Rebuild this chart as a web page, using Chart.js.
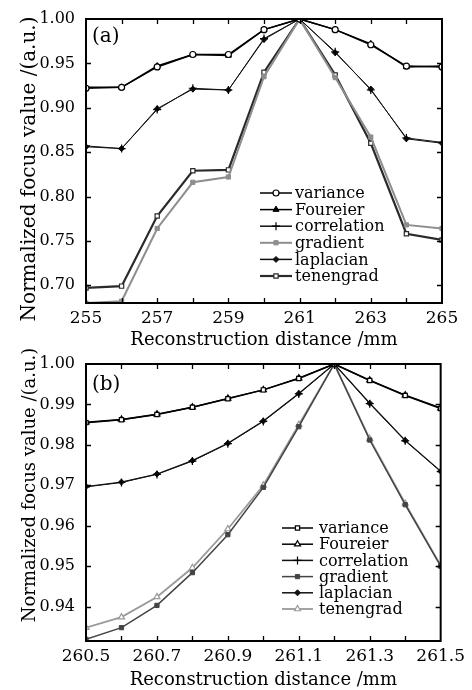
<!DOCTYPE html>
<html>
<head>
<meta charset="utf-8">
<script src="https://cdn.jsdelivr.net/npm/chart.js@4.4.1/dist/chart.umd.min.js"></script>
<style>
  html, body { margin: 0; padding: 0; background: #fff; }
  #wrap { position: relative; width: 472px; height: 690px; }
  #chartA { position: absolute; left: 0; top: 0; }
  #chartB { position: absolute; left: 0; top: 345px; }
</style>
</head>
<body>
<div id="wrap">
  <canvas id="chartA" width="472" height="350"></canvas>
  <canvas id="chartB" width="472" height="345"></canvas>
</div>
<script>
/* ---------- data ---------- */
const seriesNames = ['variance', 'Foureier', 'correlation', 'gradient', 'laplacian', 'tenengrad'];

// panel (a): 255 - 265 mm
const distA = [255, 256, 257, 258, 259, 260, 261, 262, 263, 264, 265];
const varianceA    = [0.922, 0.923, 0.946, 0.960, 0.960, 0.988, 1.000, 0.988, 0.971, 0.947, 0.946];
const fourierA     = [0.923, 0.923, 0.947, 0.960, 0.959, 0.988, 1.000, 0.988, 0.972, 0.946, 0.947];
const correlationA = [0.857, 0.854, 0.898, 0.922, 0.920, 0.978, 1.000, 0.963, 0.920, 0.866, 0.861];
const gradientA    = [0.680, 0.682, 0.764, 0.816, 0.822, 0.935, 1.000, 0.934, 0.867, 0.768, 0.764];
const laplacianA   = [0.856, 0.854, 0.899, 0.921, 0.920, 0.977, 1.000, 0.962, 0.921, 0.865, 0.860];
const tenengradA   = [0.697, 0.699, 0.778, 0.829, 0.830, 0.940, 1.000, 0.937, 0.860, 0.758, 0.751];

// panel (b): 260.5 - 261.5 mm
const distB = [260.5, 260.6, 260.7, 260.8, 260.9, 261.0, 261.1, 261.2, 261.3, 261.4, 261.5];
const varianceB    = [0.9855, 0.9862, 0.9875, 0.9893, 0.9914, 0.9936, 0.9964, 1.0000, 0.9959, 0.9922, 0.9890];
const fourierB     = [0.9856, 0.9863, 0.9876, 0.9893, 0.9915, 0.9936, 0.9965, 1.0000, 0.9960, 0.9923, 0.9891];
const correlationB = [0.9696, 0.9707, 0.9727, 0.9760, 0.9803, 0.9858, 0.9926, 1.0000, 0.9902, 0.9810, 0.9734];
const gradientB    = [0.9319, 0.9348, 0.9403, 0.9484, 0.9578, 0.9695, 0.9845, 1.0000, 0.9812, 0.9652, 0.9500];
const laplacianB   = [0.9697, 0.9708, 0.9728, 0.9761, 0.9804, 0.9859, 0.9927, 1.0000, 0.9903, 0.9811, 0.9735];
const tenengradB   = [0.9348, 0.9374, 0.9424, 0.9496, 0.9592, 0.9700, 0.9850, 1.0000, 0.9815, 0.9655, 0.9502];

const yTitle = 'Normalized focus value /(a.u.)';
const xTitle = 'Reconstruction distance /mm';

const SERIF = "'DejaVu Serif', 'Liberation Serif', serif";

function pts(xs, ys) {
  return xs.map((x, i) => ({ x: x, y: ys[i] }));
}

// one dataset per series, style arrays in the same order as seriesNames
function buildSets(xs, values, styles) {
  return values.map((ys, i) => Object.assign({
    label: seriesNames[i],
    data: pts(xs, ys),
    tension: 0,
    fill: false
  }, styles[i]));
}

const stylesA = [
  { borderColor: '#000', borderWidth: 1.5, pointStyle: 'circle', pointRadius: 3, pointBackgroundColor: '#fff', pointBorderColor: '#000', pointBorderWidth: 1.2 },
  { borderColor: '#000', borderWidth: 1.5, pointStyle: 'triangle', pointRadius: 3.5, pointBackgroundColor: '#000', pointBorderColor: '#000', pointBorderWidth: 1 },
  { borderColor: '#111', borderWidth: 1, pointStyle: 'cross', pointRadius: 4, pointBackgroundColor: '#000', pointBorderColor: '#000', pointBorderWidth: 1.2 },
  { borderColor: '#8e8e8e', borderWidth: 2, pointStyle: 'rect', pointRadius: 3, pointBackgroundColor: '#8e8e8e', pointBorderColor: '#8e8e8e', pointBorderWidth: 1 },
  { borderColor: '#111', borderWidth: 1, pointStyle: 'rectRot', pointRadius: 3, pointBackgroundColor: '#111', pointBorderColor: '#111', pointBorderWidth: 1 },
  { borderColor: '#2a2a2a', borderWidth: 2.2, pointStyle: 'rect', pointRadius: 3, pointBackgroundColor: '#fff', pointBorderColor: '#2a2a2a', pointBorderWidth: 1.2 }
];

const stylesB = [
  { borderColor: '#000', borderWidth: 1.5, pointStyle: 'rect', pointRadius: 3, pointBackgroundColor: '#fff', pointBorderColor: '#000', pointBorderWidth: 1.2 },
  { borderColor: '#000', borderWidth: 1.5, pointStyle: 'triangle', pointRadius: 3.5, pointBackgroundColor: '#fff', pointBorderColor: '#000', pointBorderWidth: 1.2 },
  { borderColor: '#111', borderWidth: 1, pointStyle: 'cross', pointRadius: 4, pointBackgroundColor: '#000', pointBorderColor: '#000', pointBorderWidth: 1.2 },
  { borderColor: '#444', borderWidth: 1.5, pointStyle: 'rect', pointRadius: 3, pointBackgroundColor: '#444', pointBorderColor: '#444', pointBorderWidth: 1 },
  { borderColor: '#111', borderWidth: 1.2, pointStyle: 'rectRot', pointRadius: 3, pointBackgroundColor: '#111', pointBorderColor: '#111', pointBorderWidth: 1 },
  { borderColor: '#999', borderWidth: 1.8, pointStyle: 'triangle', pointRadius: 3.5, pointBackgroundColor: '#fff', pointBorderColor: '#999', pointBorderWidth: 1.2 }
];

// box, inward ticks, panel tag, y title and legend
const framePlugin = {
  id: 'frame',
  afterDatasetsDraw(chart, args, o) {
    const ctx = chart.ctx;
    const a = chart.chartArea;
    const xs = chart.scales.x, ys = chart.scales.y;
    ctx.save();
    ctx.strokeStyle = '#000';
    ctx.lineWidth = 1.3;
    ctx.beginPath();
    xs.ticks.forEach(t => {
      const px = Math.round(xs.getPixelForValue(t.value)) + 0.5;
      if (px <= a.left + 1 || px >= a.right - 1) return;
      ctx.moveTo(px, a.bottom); ctx.lineTo(px, a.bottom - 5);
      ctx.moveTo(px, a.top); ctx.lineTo(px, a.top + 5);
    });
    ys.ticks.forEach(t => {
      const py = Math.round(ys.getPixelForValue(t.value)) + 0.5;
      if (py <= a.top + 1 || py >= a.bottom - 1) return;
      ctx.moveTo(a.left, py); ctx.lineTo(a.left + 5, py);
      ctx.moveTo(a.right, py); ctx.lineTo(a.right - 5, py);
    });
    ctx.stroke();
    ctx.lineWidth = 2;
    ctx.strokeRect(a.left, a.top, a.right - a.left, a.bottom - a.top);

    // panel tag
    ctx.fillStyle = '#000';
    ctx.font = '20px ' + SERIF;
    ctx.textBaseline = 'middle';
    ctx.textAlign = 'left';
    ctx.fillText(o.tag, a.left + 6, a.top + o.tagDy);

    // rotated y title
    ctx.save();
    ctx.translate(o.yTitleX, o.yTitleY);
    ctx.rotate(-Math.PI / 2);
    ctx.textAlign = 'center';
    ctx.font = o.yTitleSize + 'px ' + SERIF;
    ctx.fillText(yTitle, 0, 0);
    ctx.restore();

    // legend inside the plot
    const lg = o.legend;
    ctx.font = '16px ' + SERIF;
    chart.data.datasets.forEach((ds, i) => {
      const y = lg.y + i * lg.dy;
      ctx.strokeStyle = ds.borderColor;
      ctx.lineWidth = Math.max(ds.borderWidth, 1.5);
      ctx.beginPath();
      ctx.moveTo(lg.x0, y); ctx.lineTo(lg.x1, y);
      ctx.stroke();
      ctx.fillStyle = ds.pointBackgroundColor;
      ctx.strokeStyle = ds.pointBorderColor;
      ctx.lineWidth = ds.pointBorderWidth;
      Chart.helpers.drawPoint(ctx, { pointStyle: ds.pointStyle, radius: ds.pointRadius, borderWidth: ds.pointBorderWidth, rotation: 0 }, (lg.x0 + lg.x1) / 2, y);
      ctx.fillStyle = '#000';
      ctx.textAlign = 'left';
      ctx.fillText(ds.label, lg.tx, y + 1);
    });
    ctx.restore();
  }
};

function makeChart(id, xs, values, styles, cfg) {
  return new Chart(document.getElementById(id), {
    type: 'line',
    data: { datasets: buildSets(xs, values, styles) },
    options: {
      responsive: false,
      animation: false,
      layout: { padding: { top: cfg.padTop, right: 30, left: 0, bottom: 0 } },
      plugins: { legend: { display: false }, tooltip: { enabled: false }, frame: cfg.frame },
      scales: {
        x: {
          type: 'linear',
          min: cfg.xMin, max: cfg.xMax,
          grid: { display: false, drawTicks: false },
          border: { display: false },
          ticks: {
            stepSize: cfg.xStep, autoSkip: false, maxRotation: 0, padding: 7,
            color: '#000', font: { family: SERIF, size: 17, lineHeight: 1 },
            callback: cfg.xLabel
          },
          title: { display: true, text: xTitle, color: '#000', padding: 0,
                   font: { family: SERIF, size: 18, lineHeight: 1.1 } },
          afterFit: s => { s.height = cfg.xAxisH; }
        },
        y: {
          min: cfg.yMin, max: 1.0,
          grid: { display: false, drawTicks: false },
          border: { display: false },
          ticks: {
            stepSize: cfg.yStep, includeBounds: false, padding: 11,
            color: '#000', font: { family: SERIF, size: 16, lineHeight: 1 },
            callback: v => v.toFixed(2)
          },
          afterFit: s => { s.width = 86; }
        }
      }
    },
    plugins: [framePlugin]
  });
}

makeChart('chartA', distA,
  [varianceA, fourierA, correlationA, gradientA, laplacianA, tenengradA], stylesA, {
    padTop: 15, xAxisH: 47, xMin: 255, xMax: 265, xStep: 1, yMin: 0.68, yStep: 0.05,
    xLabel: v => (Math.round(v) % 2 === 1 ? String(v) : ''),
    frame: { tag: '(a)', tagDy: 18, yTitleX: 30, yTitleY: 169, yTitleSize: 20,
             legend: { x0: 260, x1: 292, tx: 295, y: 193, dy: 16.6 } }
  });

makeChart('chartB', distB,
  [varianceB, fourierB, correlationB, gradientB, laplacianB, tenengradB], stylesB, {
    padTop: 11, xAxisH: 49, xMin: 260.5, xMax: 261.5, xStep: 0.1, yMin: 0.9315, yStep: 0.01,
    xLabel: v => (Math.round(v * 10) % 2 === 1 ? v.toFixed(1) : ''),
    frame: { tag: '(b)', tagDy: 21, yTitleX: 30, yTitleY: 140, yTitleSize: 18,
             legend: { x0: 282, x1: 313, tx: 319, y: 183, dy: 16.2 } }
  });
</script>
</body>
</html>
